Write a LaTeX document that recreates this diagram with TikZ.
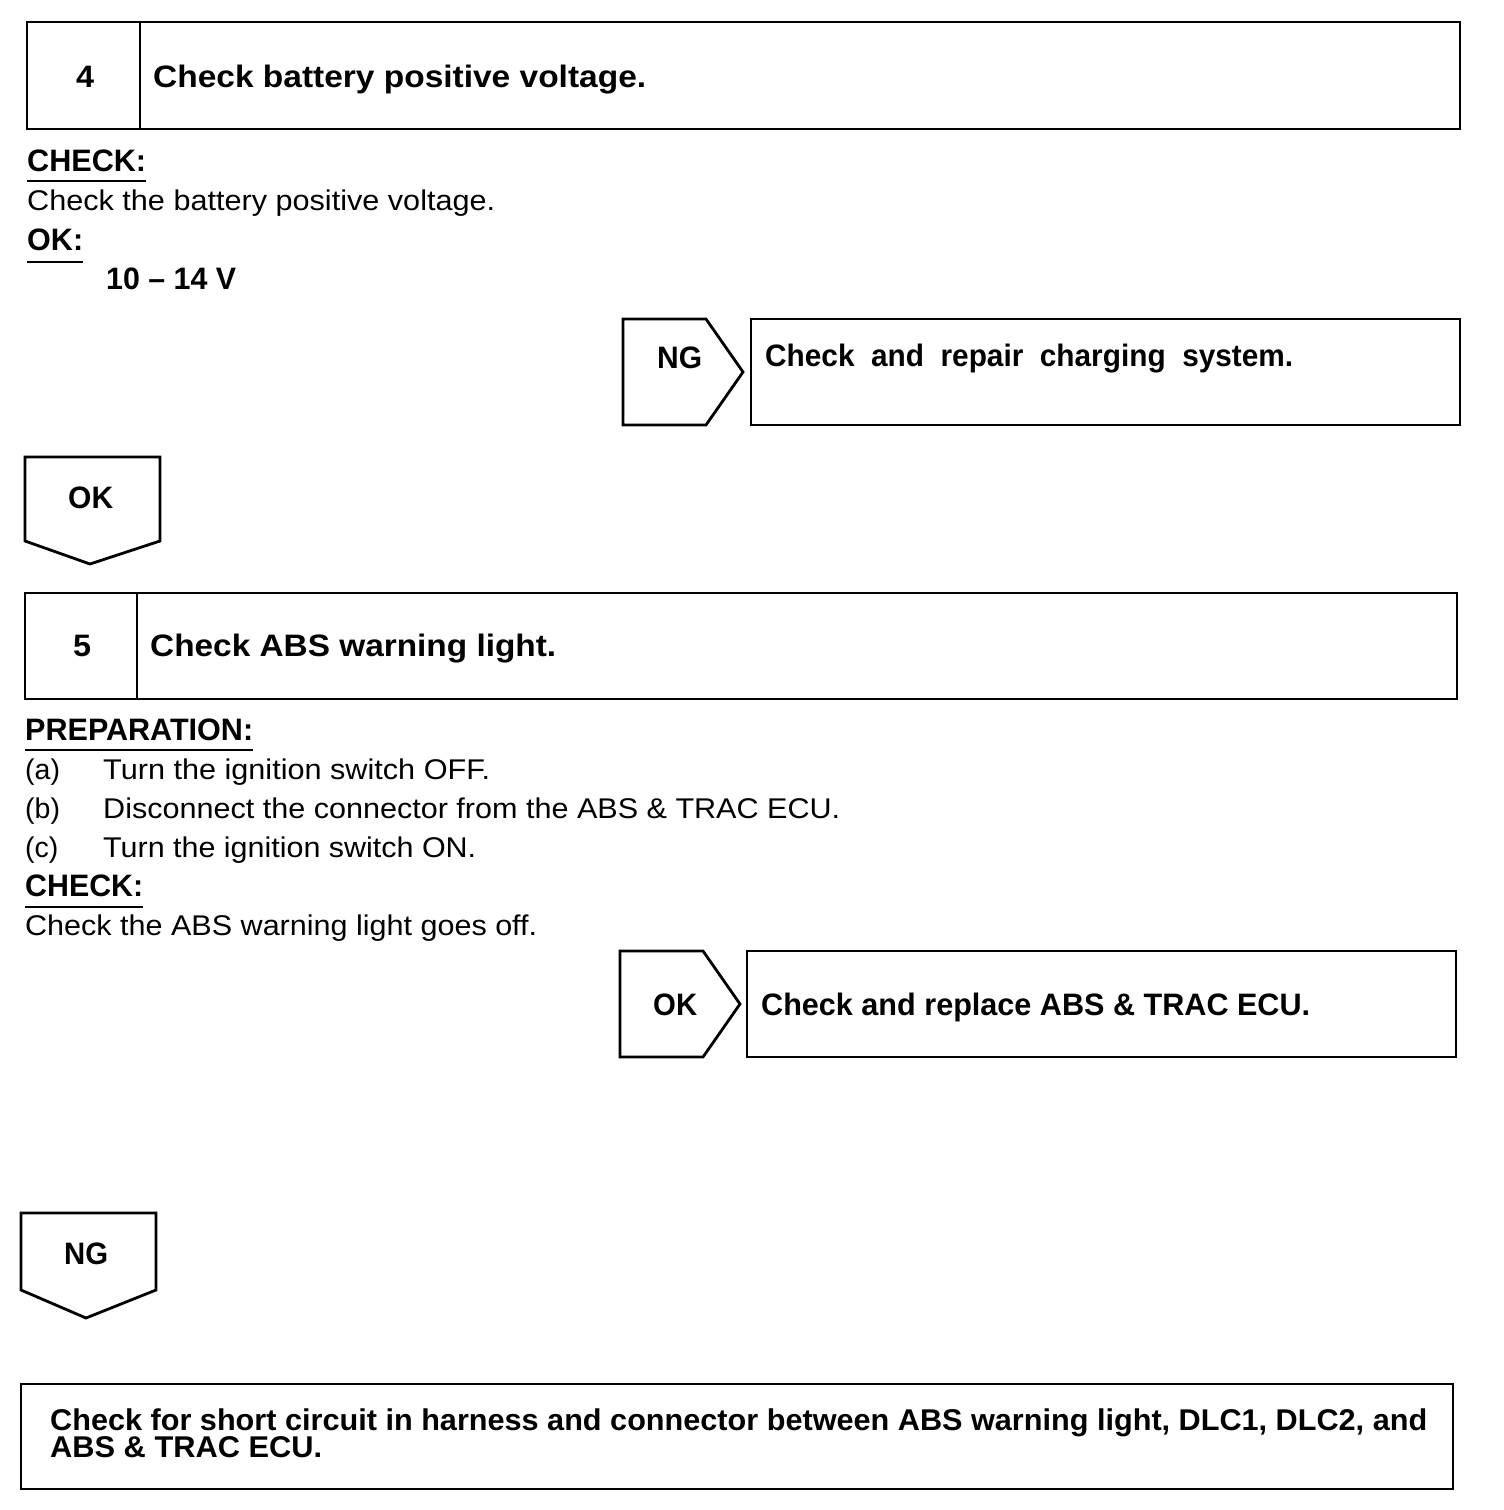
\documentclass[tikz,border=0pt]{standalone}
\usepackage{fontspec}
\setmainfont{Liberation Sans}
\usepackage{graphicx}
\newcommand\fw[2]{\resizebox{#1pt}{\height}{#2}}
\tikzset{
  frame/.style={draw=black, line width=2.8pt, line join=miter},
  hd/.style={inner sep=0pt, anchor=base west, font=\fontsize{31}{33}\selectfont\bfseries},
  fb/.style={inner sep=0pt, anchor=base west, font=\fontsize{30}{32}\selectfont\bfseries},
  bd/.style={inner sep=0pt, anchor=base west, font=\fontsize{28.5}{31}\selectfont},
  uline/.style={draw=black, line width=2pt}
}
\begin{document}
\begin{tikzpicture}[x=1pt,y=-1pt]
\useasboundingbox[fill=white] (0,0) rectangle (1504,1510);

% ---- Step 4 ----
\draw[frame] (27,22) rectangle (1460,129);
\draw[frame] (140,22) -- (140,129);
\node[hd] (n4) at (76,87) {\fw{18}{4}};
\node[hd] (t4) at (153,87) {\fw{493}{Check battery positive voltage.}};
\node[hd] (chk1) at (27,171) {\fw{119}{CHECK:}};
\draw[uline] (27,181) -- (146,181);
\node[bd] (c1) at (27,210) {\fw{468}{Check the battery positive voltage.}};
\node[hd] (ok1) at (27,250) {\fw{56}{OK:}};
\draw[uline] (27,262) -- (83,262);
\node[hd] (v1) at (106,289) {\fw{130}{10 -- 14 V}};

% NG right chevron
\draw[frame] (623,319) -- (706,319) -- (743,372) -- (706,425) -- (623,425) -- cycle;
\node[hd] (ng1) at (657,368) {\fw{45}{NG}};
\draw[frame] (751,319) rectangle (1460,425);
\node[hd] (r1) at (765,366) {\fw{528}{Check\ \ and\ \ repair\ \ charging\ \ system.}};

% OK down chevron
\draw[frame] (25,457) -- (160,457) -- (160,541) -- (90,564) -- (25,541) -- cycle;
\node[hd] (okd) at (68,508) {\fw{45}{OK}};

% ---- Step 5 ----
\draw[frame] (25,593) rectangle (1457,699);
\draw[frame] (137,593) -- (137,699);
\node[hd] (n5) at (73,656) {\fw{18}{5}};
\node[hd] (t5) at (150,656) {\fw{406}{Check ABS warning light.}};
\node[hd] (prep) at (25,740) {\fw{228}{PREPARATION:}};
\draw[uline] (25,750) -- (253,750);
\node[bd] (pa) at (25,779) {(a)};
\node[bd] (pat) at (103,779) {\fw{387}{Turn the ignition switch OFF.}};
\node[bd] (pb) at (25,818) {(b)};
\node[bd] (pbt) at (103,818) {\fw{737}{Disconnect the connector from the ABS \& TRAC ECU.}};
\node[bd] (pc) at (25,857) {(c)};
\node[bd] (pct) at (103,857) {\fw{373}{Turn the ignition switch ON.}};
\node[hd] (chk2) at (25,896) {\fw{118}{CHECK:}};
\draw[uline] (25,907) -- (143,907);
\node[bd] (c2) at (25,935) {\fw{512}{Check the ABS warning light goes off.}};

% OK right chevron
\draw[frame] (620,951) -- (703,951) -- (740,1004) -- (703,1057) -- (620,1057) -- cycle;
\node[hd] (ok2) at (653,1015) {\fw{44}{OK}};
\draw[frame] (747,951) rectangle (1456,1057);
\node[hd] (r2) at (761,1015) {\fw{549}{Check and replace ABS \& TRAC ECU.}};

% NG down chevron
\draw[frame] (21,1213) -- (156,1213) -- (156,1290) -- (86,1318) -- (21,1290) -- cycle;
\node[hd] (ngd) at (64,1264) {\fw{44}{NG}};

% Final box
\draw[frame] (21,1384) rectangle (1453,1489);
\node[fb] (f1) at (50,1430) {\fw{1377}{Check for short circuit in harness and connector between ABS warning light, DLC1, DLC2, and}};
\node[fb] (f2) at (50,1457) {\fw{272}{ABS \& TRAC ECU.}};
\end{tikzpicture}
\end{document}
